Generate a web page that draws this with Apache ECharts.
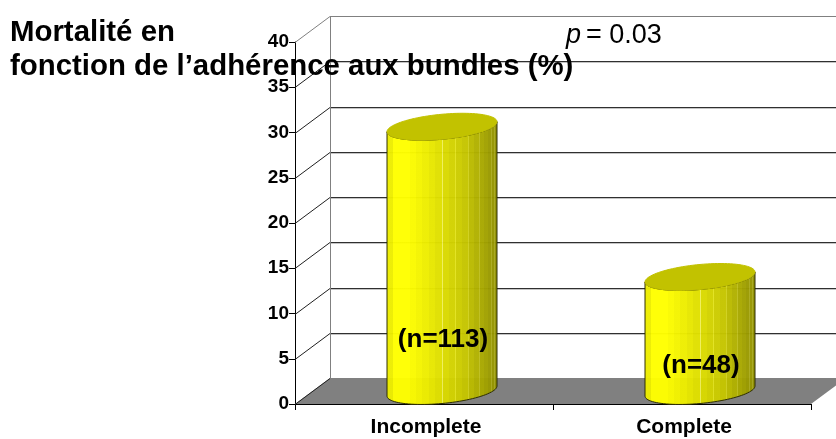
<!DOCTYPE html>
<html>
<head>
<meta charset="utf-8">
<style>html,body{margin:0;padding:0;background:#fff}#chart{width:836px;height:439px}</style>
<script src="https://cdn.jsdelivr.net/npm/echarts@6/dist/echarts.min.js"></script>
</head>
<body>
<div id="chart"></div>
<script>
const categories = ['Incomplete', 'Complete'];
const mortality = [29.2, 12.6];
const cohortLabels = ['(n=113)', '(n=48)'];
const yTicks = [0, 5, 10, 15, 20, 25, 30, 35, 40];

// Oblique projection of the chart box
const DEPTH_X = 35, DEPTH_Y = -26;
const CYL_HALF = 55, CYL_TILT = 5, CYL_MINOR = 12.5;
const LABEL_LIFT = [51, 25];
const FONT = '"Liberation Sans", Arial, sans-serif';

// Faceted shading of the cylinder body: facet widths follow the curvature
function bandStops() {
  const N = 26;
  const stops = [];
  for (let i = 0; i < N; i++) {
    const a = (1 - Math.cos(Math.PI * i / N)) / 2;
    const b = (1 - Math.cos(Math.PI * (i + 1) / N)) / 2;
    const mid = (a + b) / 2;
    const s = mid < 0.05 ? 0.93 : mid < 0.2 ? 1 : 1 - (mid - 0.2) * 0.45 - Math.max(0, mid - 0.7) * 0.3;
    const v = Math.round(255 * s);
    const c = `rgb(${v},${v},0)`;
    if (i >= N / 2) {
      // thin lighter seam at the start of each facet on the shaded side
      const w = Math.min(0.007, (b - a) / 3);
      const seam = `rgb(${Math.min(255, v + 22)},${Math.min(255, v + 22)},${i === N / 2 ? 90 : 30})`;
      stops.push({ offset: a, color: seam });
      stops.push({ offset: a + w, color: seam });
      stops.push({ offset: a + w, color: c });
    } else {
      stops.push({ offset: a, color: c });
    }
    stops.push({ offset: b, color: c });
  }
  return stops;
}

function ellipsePoint(cx, cy, t) {
  return [cx + CYL_HALF * Math.cos(t), cy - CYL_TILT * Math.cos(t) + CYL_MINOR * Math.sin(t)];
}

function renderBackdrop(params, api) {
  const tick = api.value(0);
  const cs = params.coordSys;
  const y = Math.round(api.coord([categories[0], tick])[1]);
  const x0 = cs.x, x1 = cs.x + cs.width;
  const yb = y + DEPTH_Y;
  const kids = [];
  if (tick === 0) {
    kids.push({
      type: 'polygon',
      shape: { points: [[x0, y], [x0 + DEPTH_X, yb], [x1 + DEPTH_X, yb], [x1, y]] },
      style: { fill: '#808080' }
    });
  }
  kids.push({
    type: 'line',
    shape: { x1: x0, y1: y + 0.5, x2: x0 + DEPTH_X, y2: yb + 0.5 },
    style: { stroke: tick === 40 ? '#808080' : '#202020', lineWidth: 1 }
  });
  kids.push({
    type: 'line',
    shape: { x1: x0 + DEPTH_X, y1: yb + 0.5, x2: x1 + DEPTH_X, y2: yb + 0.5 },
    style: { stroke: tick === 40 || tick === 0 ? '#808080' : '#303030', lineWidth: 1 }
  });
  if (tick !== 40 && tick !== 0) {
    kids.push({
      type: 'line',
      shape: { x1: x0 + DEPTH_X, y1: yb + 1.5, x2: x1 + DEPTH_X, y2: yb + 1.5 },
      style: { stroke: '#c4c4c4', lineWidth: 1 }
    });
  }
  if (tick === 40) {
    const floorBack = Math.round(api.coord([categories[0], 0])[1]) + DEPTH_Y;
    kids.push({
      type: 'line',
      shape: { x1: x0 + DEPTH_X + 0.5, y1: yb, x2: x0 + DEPTH_X + 0.5, y2: floorBack },
      style: { stroke: '#808080', lineWidth: 1 }
    });
  }
  return { type: 'group', children: kids };
}

function renderCylinder(params, api) {
  const idx = api.value(0);
  const val = api.value(1);
  const base = api.coord([idx, 0]);
  const top = api.coord([idx, val]);
  const cx = base[0] + DEPTH_X / 2 + 0.5;
  const cyBase = base[1] + DEPTH_Y / 2;
  const cyTop = top[1] + DEPTH_Y / 2;
  const pts = [];
  const N = 48;
  for (let i = 0; i <= N; i++) pts.push(ellipsePoint(cx, cyTop, Math.PI - Math.PI * i / N));
  for (let i = 0; i <= N; i++) pts.push(ellipsePoint(cx, cyBase, Math.PI * i / N));
  const lid = [];
  for (let i = 0; i < 96; i++) lid.push(ellipsePoint(cx, cyTop, 2 * Math.PI * i / 96));
  return {
    type: 'group',
    children: [
      {
        type: 'polygon',
        shape: { points: pts },
        style: {
          fill: { type: 'linear', x: 0, y: 0, x2: 1, y2: 0, colorStops: bandStops() },
          stroke: '#2a2a00', lineWidth: 1, opacity: 0.97
        }
      },
      { type: 'polygon', shape: { points: lid }, style: { fill: '#c2c200', stroke: '#c2c200', lineWidth: 1 } },
      {
        type: 'text',
        x: cx + 1,
        y: cyBase - LABEL_LIFT[params.dataIndex],
        style: {
          text: cohortLabels[params.dataIndex],
          font: 'bold 26px ' + FONT,
          fill: '#000',
          align: 'center',
          verticalAlign: 'middle'
        }
      }
    ]
  };
}

const chart = echarts.init(document.getElementById('chart'), null, { renderer: 'canvas' });
chart.setOption({
  animation: false,
  backgroundColor: '#fff',
  title: [
    {
      text: 'Mortalité en\nfonction de l’adhérence aux bundles (%)',
      left: 10, top: 16, padding: 0, z: 20,
      textStyle: { fontFamily: FONT, fontWeight: 'bold', fontSize: 29.4, lineHeight: 34, color: '#000' }
    },
    {
      text: '{i|p} {n|= 0.03}',
      left: 566, top: 22, padding: 0, z: 20,
      textStyle: {
        fontWeight: 'normal',
        rich: {
          i: { fontFamily: FONT, fontStyle: 'italic', fontWeight: 'normal', fontSize: 27, color: '#000' },
          n: { fontFamily: FONT, fontWeight: 'normal', fontSize: 27, color: '#000' }
        }
      }
    }
  ],
  grid: { left: 295, top: 42, width: 516, height: 362 },
  xAxis: {
    type: 'category',
    data: categories,
    axisLine: { lineStyle: { color: '#000', width: 1 } },
    axisTick: { show: true, length: 6, lineStyle: { color: '#000' } },
    axisLabel: { color: '#000', fontFamily: FONT, fontWeight: 'bold', fontSize: 21, margin: 13, padding: [0, 0, 0, 4] }
  },
  yAxis: {
    type: 'value',
    min: 0, max: 40, interval: 5,
    splitLine: { show: false },
    axisLine: { show: true, lineStyle: { color: '#000', width: 1 } },
    axisTick: { show: true, length: 6, lineStyle: { color: '#000' } },
    axisLabel: { color: '#000', fontFamily: FONT, fontWeight: 'bold', fontSize: 19, margin: 6 }
  },
  series: [
    {
      type: 'custom',
      clip: false, z: 1, silent: true,
      renderItem: renderBackdrop,
      encode: { y: 0 },
      data: yTicks.map(t => [t])
    },
    {
      type: 'custom',
      clip: false, z: 5, silent: true,
      renderItem: renderCylinder,
      encode: { x: 0, y: 1 },
      data: mortality.map((v, i) => [i, v])
    }
  ]
});
</script>
</body>
</html>
